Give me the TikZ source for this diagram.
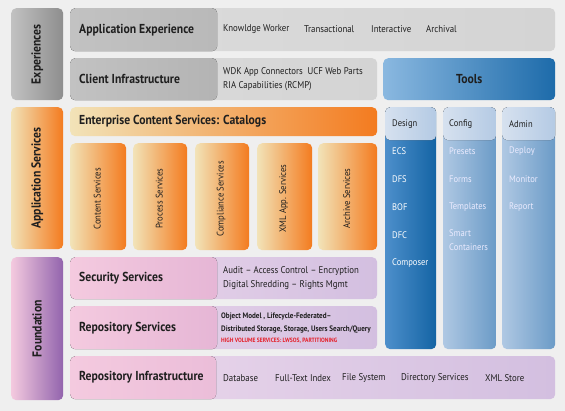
\documentclass[tikz,border=0pt]{standalone}
\usepackage{fontspec}
\setmainfont{PT Sans}[FakeStretch=0.9]
\usetikzlibrary{positioning}

\definecolor{bgG}{HTML}{EFEFEF}
\definecolor{grayL}{HTML}{C2C2C2}
\definecolor{grayD}{HTML}{A4A4A4}
\definecolor{grayS}{HTML}{8E8E8E}
\definecolor{paleL}{HTML}{DCDCDC}
\definecolor{paleR}{HTML}{D4D4D4}
\definecolor{oraL}{HTML}{F2E3B8}
\definecolor{oraR}{HTML}{F37B1F}
\definecolor{pinkL}{HTML}{F4CADF}
\definecolor{pinkR}{HTML}{D6A0CB}
\definecolor{lilL}{HTML}{ECD9EC}
\definecolor{lilR}{HTML}{D3BFE0}
\definecolor{purR}{HTML}{9264AD}
\definecolor{toolL}{HTML}{8AB8E0}
\definecolor{toolR}{HTML}{1D6BAA}
\definecolor{desL}{HTML}{4D8FCB}
\definecolor{desR}{HTML}{1464A4}
\definecolor{cfgL}{HTML}{AFC8E3}
\definecolor{cfgR}{HTML}{6B9BC7}
\definecolor{hdL}{HTML}{D6E1EF}
\definecolor{hdR}{HTML}{B4CAE4}
\definecolor{hiRed}{HTML}{E5202A}

\tikzset{split/.style n args={3}{path picture={\fill[left color=#2,right color=#3] (path picture bounding box.north west) rectangle ([xshift=#1]path picture bounding box.south west);}},
  cap/.style n args={3}{path picture={\fill[left color=#2,right color=#3] (path picture bounding box.north west) rectangle ([yshift=-#1]path picture bounding box.north east);}}}

\begin{document}
\begin{tikzpicture}[x=1pt,y=-1pt]
    \tikzstyle{every node}=[inner sep=0pt, text=black!88]
    \tikzstyle{box}=[rounded corners=5pt, anchor=north west]
    \tikzstyle{head}=[font=\fontsize{13}{15}\selectfont\bfseries, anchor=west]
    \tikzstyle{side}=[font=\fontsize{13}{15}\selectfont\bfseries, rotate=90]
    \tikzstyle{item}=[font=\fontsize{9.8}{14}\selectfont, anchor=west, align=left]
    \tikzstyle{tool}=[font=\fontsize{9.5}{14}\selectfont, anchor=west, align=left]
    \tikzstyle{svc}=[font=\fontsize{9.6}{11}\selectfont, rotate=90]
    \fill[bgG] (0,0) rectangle (565,411);
    % side boxes
    \node[box, minimum width=52pt, minimum height=92pt, left color=grayL, right color=grayS] (exp) at (11,8) {};
    \node[side] at (exp) {Experiences};
    \node[box, minimum width=52pt, minimum height=142pt, left color=oraL, right color=oraR] (appsvc) at (11,107) {};
    \node[side] at (appsvc) {Application Services};
    \node[box, minimum width=52pt, minimum height=143pt, left color=pinkL, right color=purR] (found) at (11,257) {};
    \node[side] at (found) {Foundation};
    % experiences
    \node[box, minimum width=485pt, minimum height=43pt, left color=paleL, right color=paleR, split={147pt}{grayL}{grayD}] (appexp) at (70,8) {};
    \node[head] at ([xshift=9pt]appexp.west) {Application Experience};
    \foreach \x/\t in {223/Knowldge Worker, 304/Transactional, 371/Interactive, 426/Archival}
        \node[item] at (\x,29.5) {\t};
    \node[box, minimum width=307pt, minimum height=42pt, left color=paleL, right color=paleR, split={147pt}{grayL}{grayD}] (client) at (70,58) {};
    \node[head] at ([xshift=9pt]client.west) {Client Infrastructure};
    \node[item] at (223,79) {WDK App Connectors\ \ UCF Web Parts\\RIA Capabilities (RCMP)};
    \node[box, minimum width=172pt, minimum height=42pt, left color=toolL, right color=toolR] (tools) at (383,58) {};
    \node[font=\fontsize{13}{15}\selectfont\bfseries] at (tools) {Tools};
    % application services
    \node[box, minimum width=307pt, minimum height=29pt, left color=oraL, right color=oraR] (ecs) at (70,107) {};
    \node[head] at ([xshift=9pt]ecs.west) {Enterprise Content Services: Catalogs};
    \foreach \n/\x/\w/\t in {cs/70/56/Content Services, ps/133/54/Process Services, cps/195/54/Compliance Services, xml/257/55/XML App. Services, arc/318/59/Archive Services}{
        \node[box, minimum width=\w pt, minimum height=107pt, left color=oraL, right color=oraR] (\n) at (\x,143) {};
        \node[svc] at ([xshift=-1pt,yshift=-2pt]\n) {\t};
    }
    % tools columns
    \node[box, minimum width=51pt, minimum height=242pt, left color=desL, right color=desR, cap={33pt}{hdL}{hdR}] (design) at (385,107) {};
    \node[box, minimum width=53pt, minimum height=242pt, left color=cfgL, right color=cfgR, cap={33pt}{hdL}{hdR}] (config) at (443,107) {};
    \node[box, minimum width=53pt, minimum height=242pt, left color=cfgL, right color=cfgR, cap={33pt}{hdL}{hdR}] (admin) at (502,107) {};
    \node[tool] at (392,124) {Design};
    \node[tool] at (449,124) {Config};
    \node[tool] at (509,124) {Admin};
    \foreach \y/\t in {151/ECS, 179/DFS, 207/BOF, 235/DFC, 263/Composer}
        \node[tool, text=white] at (392,\y) {\t};
    \foreach \y/\t in {151/Presets, 179/Forms, 207/Templates, 240/Smart\\Containers}
        \node[tool, text=white!92!blue] at (449,\y) {\t};
    \foreach \y/\t in {151/Deploy, 179/Monitor, 207/Report}
        \node[tool, text=white!92!blue] at (509,\y) {\t};
    % foundation
    \node[box, minimum width=307pt, minimum height=42pt, left color=lilL, right color=lilR, split={147pt}{pinkL}{pinkR}] (sec) at (70,257) {};
    \node[head] at ([xshift=9pt]sec.west) {Security Services};
    \node[item] at (223,278.5) {Audit -- Access Control -- Encryption\\Digital Shredding -- Rights Mgmt};
    \node[box, minimum width=307pt, minimum height=43pt, left color=lilL, right color=lilR, split={147pt}{pinkL}{pinkR}] (repo) at (70,306) {};
    \node[head] at ([xshift=9pt]repo.west) {Repository Services};
    \node[item, font=\fontsize{7.9}{9}\selectfont\bfseries] (om) at (221,317) {Object Model , Lifecycle-Federated--};
    \node[item, font=\fontsize{7.9}{9}\selectfont\bfseries] (ds) at (221,329.5) {Distributed Storage, Storage, Users Search/Query};
    \node[item, font=\fontsize{6.2}{7}\selectfont\bfseries, text=hiRed] (hv) at (221,340.5) {HIGH VOLUME SERVICES: LWSOS, PARTITIONING};
    \node[box, minimum width=485pt, minimum height=43pt, left color=lilL, right color=lilR, split={146pt}{pinkL}{pinkR}] (infra) at (70,356) {};
    \node[head] at ([xshift=9pt]infra.west) {Repository Infrastructure};
    \foreach \x/\t in {223/Database, 275/Full-Text Index, 342/File System, 401/Directory Services, 485/XML Store}
        \node[item] at (\x,378) {\t};
\end{tikzpicture}
\end{document}
